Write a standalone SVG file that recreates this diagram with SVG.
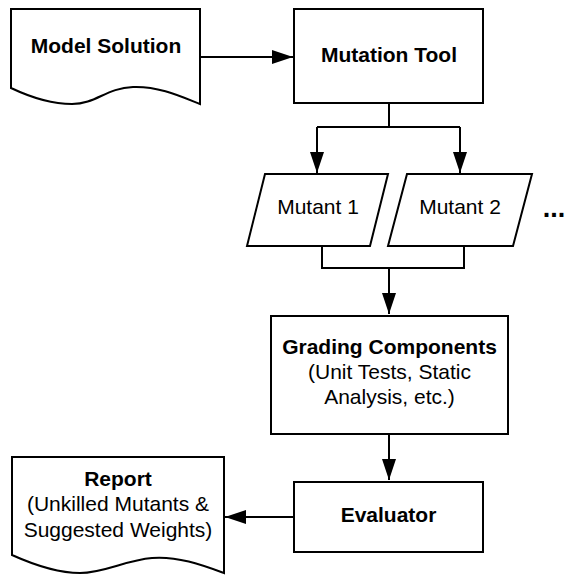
<svg xmlns="http://www.w3.org/2000/svg" width="566" height="575" viewBox="0 0 566 575">
<defs>
<style>
.shape{fill:#fff;stroke:#000;stroke-width:2}
.conn{fill:none;stroke:#000;stroke-width:2}
text{font-family:"Liberation Sans",Arial,sans-serif;font-size:21px;fill:#000;text-anchor:middle}
.b{font-weight:bold}
</style>
<marker id="arr" markerUnits="userSpaceOnUse" markerWidth="22" markerHeight="14" refX="21" refY="7" orient="auto">
<path d="M0,0 L21,7 L0,14 Z" fill="#000"/>
</marker>
</defs>
<rect width="566" height="575" fill="#fff"/>
<g id="connectors">
<path class="conn" d="M200,57 H293" marker-end="url(#arr)"/>
<path class="conn" d="M389,103 V127 M317,127 H460"/>
<path class="conn" d="M317,127 V173" marker-end="url(#arr)"/>
<path class="conn" d="M460,127 V173" marker-end="url(#arr)"/>
<path class="conn" d="M322,246 V268 H464 V246"/>
<path class="conn" d="M389,268 V314" marker-end="url(#arr)"/>
<path class="conn" d="M389,434 V480" marker-end="url(#arr)"/>
<path class="conn" d="M294,517 H225" marker-end="url(#arr)"/>
</g>
<g id="model-solution">
<path class="shape" d="M11,9 H200 V104 C180,96 158,86 133,87 C106,88 96,104 72,104 C50,104 30,97 11,88 Z"/>
<text class="b" x="106" y="53">Model Solution</text>
</g>
<g id="mutation-tool">
<rect class="shape" x="294" y="9" width="189" height="94"/>
<text class="b" x="389" y="62">Mutation Tool</text>
</g>
<g id="mutant-1">
<path class="shape" d="M265,174 H388 L370,246 H247 Z"/>
<text x="318" y="214">Mutant 1</text>
</g>
<g id="mutant-2">
<path class="shape" d="M407,174 H532 L513,246 H388 Z"/>
<text x="460" y="214">Mutant 2</text>
</g>
<g id="more">
<text class="b" x="554" y="217" style="font-size:27px">...</text>
</g>
<g id="grading-components">
<rect class="shape" x="271" y="316" width="237" height="118"/>
<text class="b" x="389.5" y="354">Grading Components</text>
<text x="389.5" y="379">(Unit Tests, Static</text>
<text x="389.5" y="404">Analysis, etc.)</text>
</g>
<g id="evaluator">
<rect class="shape" x="294" y="482" width="189" height="70"/>
<text class="b" x="388.5" y="522">Evaluator</text>
</g>
<g id="report">
<path class="shape" d="M12,457 H224 V573 C202,565 178,556 152,558 C126,560 104,573 80,573 C56,573 32,564 12,555 Z"/>
<text class="b" x="118" y="486">Report</text>
<text x="118" y="511">(Unkilled Mutants &amp;</text>
<text x="118" y="537">Suggested Weights)</text>
</g>
</svg>
